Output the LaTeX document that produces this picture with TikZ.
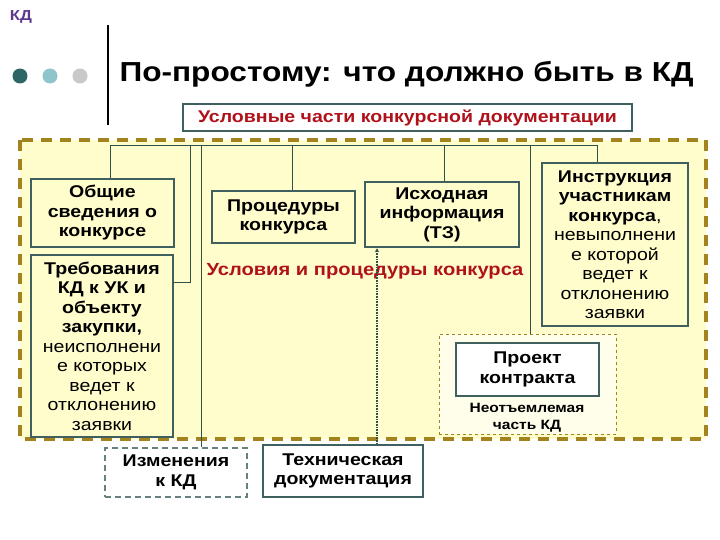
\documentclass[tikz,border=0pt]{standalone}
\usepackage{fontspec}
\setmainfont{Liberation Sans}[FakeStretch=1.15]
\usetikzlibrary{arrows.meta}
\definecolor{kdpurple}{HTML}{5B3A8E}
\definecolor{dotA}{HTML}{2E6566}
\definecolor{dotB}{HTML}{8EC5CB}
\definecolor{dotC}{HTML}{C9C9C9}
\definecolor{frame}{HTML}{3F605F}
\definecolor{wire}{HTML}{2F5248}
\definecolor{paper}{HTML}{FFFDCB}
\definecolor{gold}{HTML}{A3831E}
\definecolor{redtxt}{HTML}{B0121C}

\begin{document}
\begin{tikzpicture}[x=1pt, y=-1pt,
    part/.style={draw=frame, line width=2.5pt, fill=paper, align=center,
      inner sep=0pt, font=\fontsize{17}{19.5}\selectfont\bfseries},
    link/.style={draw=wire, line width=0.8pt}]
    \fill[white] (0,0) rectangle (720,540);
    \useasboundingbox (0,0) rectangle (720,540);

    % heading
    \node[text=kdpurple, font=\fontsize{14.5}{14.5}\selectfont\bfseries] (kd) at (21,17) {КД};
    \foreach \x/\c in {20/dotA, 50/dotB, 80/dotC}
      \fill[\c] (\x,76) circle (7.5);
    \draw[line width=2pt] (108,25) -- (108,125);
    \node[anchor=west, font=\fontsize{27.5}{30}\selectfont\bfseries] (title) at (116,74)
      {По-простому: что должно быть в КД};
    \node[draw=frame, line width=2.5pt, fill=white, minimum width=449, minimum height=27,
      inner sep=0pt, text=redtxt, font=\fontsize{17}{17}\selectfont\bfseries] (head) at (407.5,117.5)
      {Условные части конкурсной документации};

    % area
    \draw[gold, fill=paper, line width=3.5pt, dash pattern=on 11pt off 8pt] (20,140) rectangle (706,439);

    % bus
    \coordinate (busL) at (110,145);
    \coordinate (busR) at (597,145);
    \coordinate (b2) at (190,145);
    \coordinate (b3) at (201,145);
    \coordinate (b4) at (292,145);
    \coordinate (b5) at (444,145);
    \coordinate (b6) at (530,145);
    \coordinate (trebIn) at (173,282);

    \node[part, minimum width=143, minimum height=68] (obsh) at (102.5,213)
      {Общие\\сведения о\\конкурсе};
    \node[part, minimum width=142, minimum height=182] (treb) at (102,346)
      {Требования\\КД к УК и\\объекту\\закупки,\\\mdseries неисполнени\\\mdseries е которых\\\mdseries ведет к\\\mdseries отклонению\\\mdseries заявки};
    \node[part, minimum width=143, minimum height=52] (proc) at (283.5,217)
      {Процедуры\\конкурса};
    \node[part, minimum width=154, minimum height=65] (ish) at (442,214.5)
      {Исходная\\информация\\(ТЗ)};
    \node[part, minimum width=146, minimum height=163] (instr) at (615,244.5)
      {Инструкция\\участникам\\конкурса{\mdseries ,}\\\mdseries невыполнени\\\mdseries е которой\\\mdseries ведет к\\\mdseries отклонению\\\mdseries заявки};
    \node[text=redtxt, font=\fontsize{17.5}{17.5}\selectfont\bfseries] (usl) at (365,271)
      {Условия и процедуры конкурса};

    \node[draw=gold, dashed, line width=0.8pt, fill=white!60!paper, minimum width=177,
      minimum height=100, inner sep=0pt] (proekt) at (527.5,384) {};
    \node[part, fill=white, minimum width=143, minimum height=53] (proektIn) at (527.5,369.5)
      {Проект\\контракта};
    \node[align=center, font=\fontsize{13.5}{17}\selectfont\bfseries] (neot) at (527,418)
      {Неотъемлемая\\часть КД};

    \node[part, draw=frame!80, fill=white, line width=1.5pt, dash pattern=on 6pt off 4pt,
      minimum width=142, minimum height=49] (izm) at (176,472.5) {Изменения\\к КД};
    \node[part, fill=white, minimum width=160, minimum height=52] (tech) at (343,471)
      {Техническая\\документация};

    % connectors
    \draw[link] (busL) -- (busR);
    \draw[link] (busL) -- (busL |- obsh.north);
    \draw[link] (b2) |- (trebIn);
    \draw[link] (b3) -- (b3 |- izm.north);
    \draw[link] (b4) -- (b4 |- proc.north);
    \draw[link] (b5) -- (b5 |- ish.north);
    \draw[link] (b6) -- (b6 |- proekt.north);
    \draw[link] (busR) -- (busR |- instr.north);
    \draw[wire, line width=1.2pt, dash pattern=on 0.8pt off 0.8pt, -{Stealth[length=4pt,width=4pt]}]
      ([xshift=34pt]tech.north) -- ([xshift=-65pt]ish.south);
  \end{tikzpicture}
\end{document}
